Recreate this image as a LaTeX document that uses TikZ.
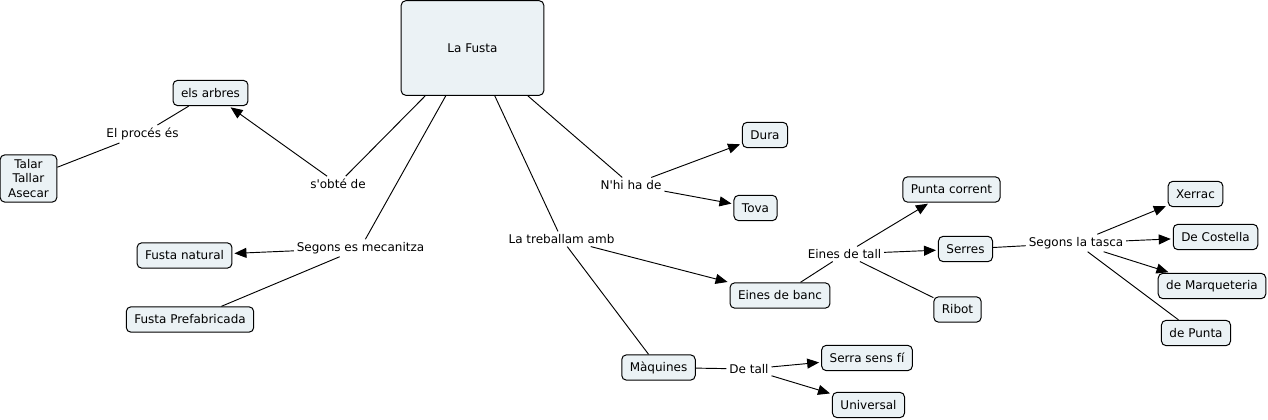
\documentclass[tikz,border=0pt]{standalone}
\usepackage{fontspec}
\setmainfont{DejaVu Sans}
\usetikzlibrary{shapes,arrows.meta}
\definecolor{cmapfill}{RGB}{235,242,245}
\tikzstyle{concept} = [rectangle, draw, fill=cmapfill, line width=0.75pt,
    rounded corners=3.5pt, align=center, inner xsep=6pt, minimum height=19pt]
\tikzstyle{phrase} = [inner xsep=2pt, inner ysep=2pt]
\tikzstyle{line} = [draw, line width=0.7pt]
\tikzstyle{arrowline} = [draw, line width=0.7pt, shorten >=1.5pt,
    -{Triangle[length=9pt,width=7.5pt]}]

\begin{document}
\begin{tikzpicture}[x=0.75pt, y=-0.75pt, font=\fontsize{9}{10.9}\selectfont]
		\useasboundingbox (0,0) rectangle (1268,420);
		% concepts
		\node [concept, minimum width=107pt, minimum height=71pt] (fusta) at (472.5,48) {La Fusta};
		\node [concept] (arbres) at (210.5,93) {els arbres};
		\node [concept] (talar) at (28.5,178.5) {Talar\\Tallar\\Asecar};
		\node [concept] (natural) at (184.5,255.5) {Fusta natural};
		\node [concept] (prefab) at (190,319.5) {Fusta Prefabricada};
		\node [concept] (dura) at (765,135) {Dura};
		\node [concept] (tova) at (755.5,208) {Tova};
		\node [concept] (banc) at (780,295.5) {Eines de banc};
		\node [concept] (maquines) at (658.5,367.5) {Màquines};
		\node [concept] (serra) at (867,358) {Serra sens fí};
		\node [concept] (universal) at (868.5,405) {Universal};
		\node [concept] (punta) at (951.5,189.5) {Punta corrent};
		\node [concept] (serres) at (965.5,249) {Serres};
		\node [concept] (ribot) at (957.5,309.5) {Ribot};
		\node [concept] (xerrac) at (1195.5,194) {Xerrac};
		\node [concept] (costella) at (1215.5,237) {De Costella};
		\node [concept] (marqueteria) at (1212,286) {de Marqueteria};
		\node [concept] (depunta) at (1196,333) {de Punta};
		% linking phrases
		\node [phrase] (proces) at (142.5,134) {El procés és};
		\node [phrase] (obte) at (338,184) {s\textquotesingle obté de};
		\node [phrase] (mecanitza) at (360.5,248) {Segons es mecanitza};
		\node [phrase] (nhi) at (631,185) {N\textquotesingle hi ha de};
		\node [phrase] (treballam) at (561.5,239) {La treballam amb};
		\node [phrase] (einestall) at (844.5,254) {Eines de tall};
		\node [phrase] (tasca) at (1076,243) {Segons la tasca};
		\node [phrase] (detall) at (749,369) {De tall};
		
		\path [line] (fusta) -- (obte);
		\path [arrowline] (obte) -- (arbres);
		\path [line] (arbres) -- (proces);
		\path [line] (proces) -- (talar);
		\path [line] (fusta) -- (mecanitza);
		\path [arrowline] (mecanitza) -- (natural);
		\path [line] (mecanitza) -- (prefab);
		\path [line] (fusta) -- (nhi);
		\path [arrowline] (nhi) -- (dura);
		\path [arrowline] (nhi) -- (tova);
		\path [line] (fusta) -- (treballam);
		\path [arrowline] (treballam) -- (banc);
		\path [line] (treballam) -- (maquines);
		\path [line] (banc) -- (einestall);
		\path [arrowline] (einestall) -- (punta);
		\path [arrowline] (einestall) -- (serres);
		\path [line] (einestall) -- (ribot);
		\path [line] (serres) -- (tasca);
		\path [arrowline] (tasca) -- (xerrac);
		\path [arrowline] (tasca) -- (costella);
		\path [arrowline] (tasca) -- (marqueteria);
		\path [line] (tasca) -- (depunta);
		\path [line] (maquines) -- (detall);
		\path [arrowline] (detall) -- (serra);
		\path [arrowline] (detall) -- (universal);
	\end{tikzpicture}
\end{document}
